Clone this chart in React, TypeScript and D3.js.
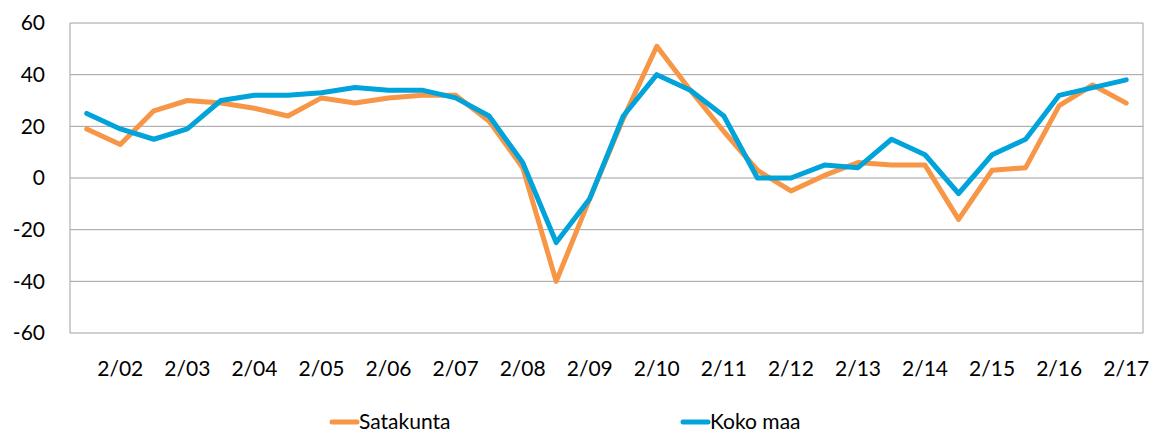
import React from 'react';
import * as d3 from 'd3';

// half-year periods, 8/01 .. 2/17 (labels shown only on the February points)
const periods = [
  '8/01', '2/02', '8/02', '2/03', '8/03', '2/04', '8/04', '2/05', '8/05', '2/06', '8/06',
  '2/07', '8/07', '2/08', '8/08', '2/09', '8/09', '2/10', '8/10', '2/11', '8/11', '2/12',
  '8/12', '2/13', '8/13', '2/14', '8/14', '2/15', '8/15', '2/16', '8/16', '2/17',
];

const satakunta = [
  19, 13, 26, 30, 29, 27, 24, 31, 29, 31, 32, 32, 22, 4, -40, -8,
  23, 51, 34, 18, 3, -5, 1, 6, 5, 5, -16, 3, 4, 28, 36, 29,
];

const kokoMaa = [
  25, 19, 15, 19, 30, 32, 32, 33, 35, 34, 34, 31, 24, 6, -25, -8,
  24, 40, 34, 24, 0, 0, 5, 4, 15, 9, -6, 9, 15, 32, 35, 38,
];

const yTicks = [60, 40, 20, 0, -20, -40, -60];

const series = [
  { name: 'Satakunta', values: satakunta, color: '#F79646' },
  { name: 'Koko maa', values: kokoMaa, color: '#00A3DA' },
];

const W = 1165;
const H = 435;
const margin = { top: 23, right: 22, bottom: 102, left: 70 };
const font = 'Lato, "Open Sans", sans-serif';

export default function App() {
  const x = d3.scaleBand<string>()
    .domain(periods)
    .range([margin.left, W - margin.right]);

  const y = d3.scaleLinear()
    .domain([-60, 60])
    .range([H - margin.bottom, margin.top]);

  const line = d3.line<number>()
    .x((_, i) => (x(periods[i]) as number) + x.bandwidth() / 2)
    .y(d => y(d));

  const legendX = [332, 683];

  return (
    <svg width={W} height={H} style={{ position: 'absolute', left: 0, top: 0, fontFamily: font }}>
      <rect x={0} y={0} width={W} height={H} fill="#fff" />

      {/* grid lines */}
      {yTicks.map(t => (
        <line key={t} x1={margin.left} x2={W - margin.right} y1={y(t)} y2={y(t)}
          stroke="#a0a0a0" strokeWidth={1} />
      ))}
      <line x1={margin.left} x2={margin.left} y1={y(60)} y2={y(-60)} stroke="#a0a0a0" />
      <line x1={W - margin.right} x2={W - margin.right} y1={y(60)} y2={y(-60)} stroke="#a0a0a0" />

      {/* y labels */}
      {yTicks.map(t => (
        <text key={t} x={45} y={y(t)} dy="0.35em" textAnchor="end" fontSize={21} fill="#000">
          {t}
        </text>
      ))}

      {/* x labels */}
      {periods.map((p, i) => i % 2 === 1 && (
        <text key={p} x={(x(p) as number) + x.bandwidth() / 2} y={376} textAnchor="middle"
          fontSize={21} fill="#000">
          {p}
        </text>
      ))}

      {/* lines */}
      {series.map(s => (
        <path key={s.name} d={line(s.values) || ''} fill="none" stroke={s.color}
          strokeWidth={5} strokeLinejoin="round" strokeLinecap="round" />
      ))}

      {/* legend */}
      {series.map((s, i) => (
        <g key={s.name} transform={`translate(${legendX[i]},422)`}>
          <line x1={0} x2={25} y1={0} y2={0} stroke={s.color} strokeWidth={5} strokeLinecap="round" />
          <text x={27} y={0} dy="0.35em" fontSize={21} fill="#000">{s.name}</text>
        </g>
      ))}
    </svg>
  );
}
